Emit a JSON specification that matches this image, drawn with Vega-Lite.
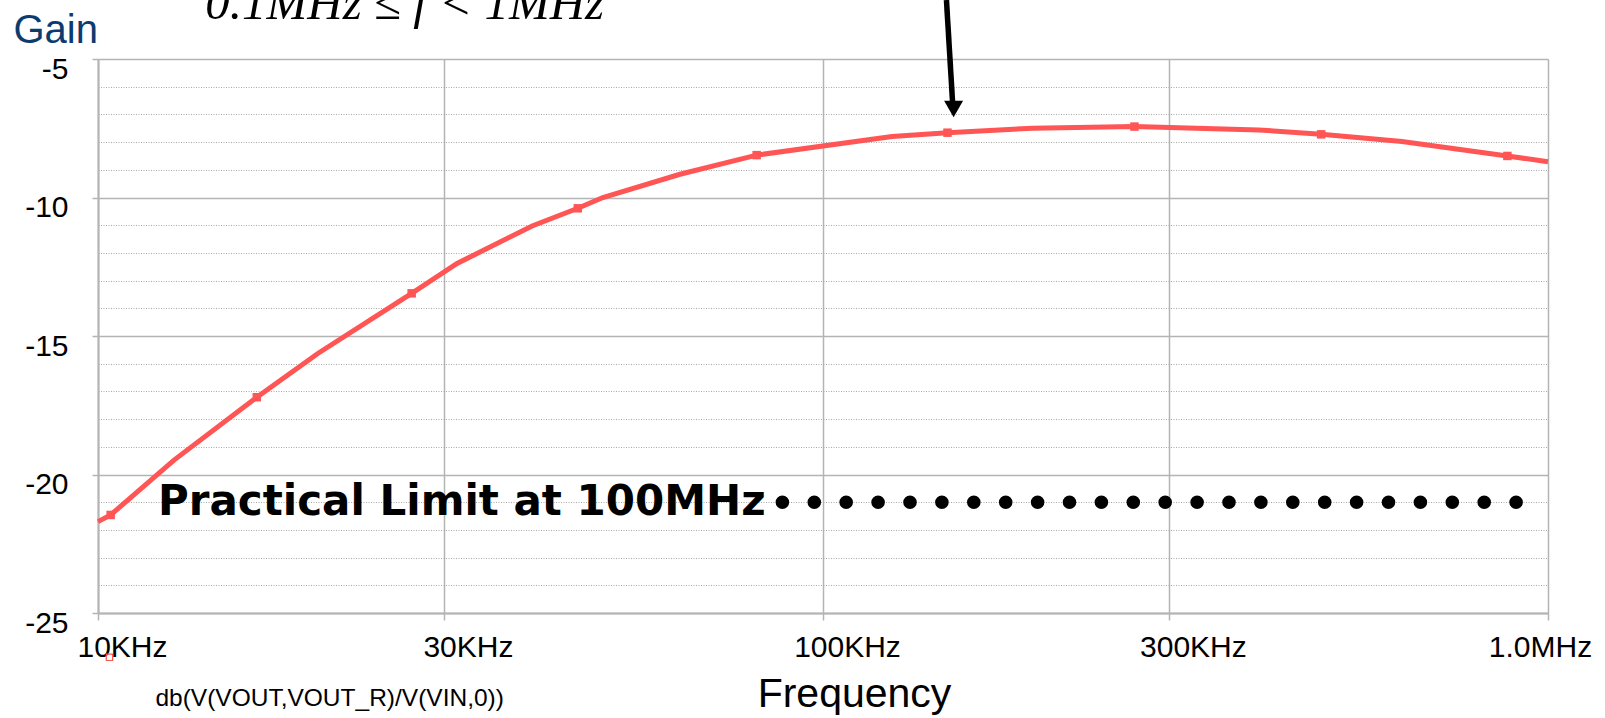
{
  "$schema": "https://vega.github.io/schema/vega-lite/v6.json",
  "width": 1450,
  "height": 554,
  "autosize": {"type": "none"},
  "padding": {"left": 98, "top": 59, "right": 57, "bottom": 105},
  "background": "white",
  "config": {"view": {"stroke": null}, "font": "Liberation Sans"},
  "datasets": {
    "curve": [
      {"f": 10000, "gain": -21.7},
      {"f": 10410, "gain": -21.46},
      {"f": 12730, "gain": -19.48},
      {"f": 16560, "gain": -17.21},
      {"f": 20100, "gain": -15.63},
      {"f": 27080, "gain": -13.46},
      {"f": 31280, "gain": -12.38},
      {"f": 39700, "gain": -11.03},
      {"f": 45900, "gain": -10.39},
      {"f": 49700, "gain": -10.0},
      {"f": 63500, "gain": -9.16},
      {"f": 81000, "gain": -8.47},
      {"f": 124500, "gain": -7.8},
      {"f": 148500, "gain": -7.66},
      {"f": 194500, "gain": -7.5},
      {"f": 268900, "gain": -7.44},
      {"f": 399000, "gain": -7.56},
      {"f": 486500, "gain": -7.72},
      {"f": 629000, "gain": -7.98},
      {"f": 879000, "gain": -8.5},
      {"f": 1000000, "gain": -8.71}
    ],
    "markers": [
      {"f": 10410, "gain": -21.46},
      {"f": 16560, "gain": -17.21},
      {"f": 27080, "gain": -13.46},
      {"f": 45900, "gain": -10.39},
      {"f": 81000, "gain": -8.47},
      {"f": 148500, "gain": -7.66},
      {"f": 268900, "gain": -7.44},
      {"f": 486500, "gain": -7.72},
      {"f": 879000, "gain": -8.5}
    ],
    "dots": [
      {"f": 87900, "gain": -21}, {"f": 97270, "gain": -21}, {"f": 107640, "gain": -21},
      {"f": 119120, "gain": -21}, {"f": 131830, "gain": -21}, {"f": 145880, "gain": -21},
      {"f": 161440, "gain": -21}, {"f": 178650, "gain": -21}, {"f": 197700, "gain": -21},
      {"f": 218780, "gain": -21}, {"f": 242100, "gain": -21}, {"f": 267920, "gain": -21},
      {"f": 296480, "gain": -21}, {"f": 328100, "gain": -21}, {"f": 363080, "gain": -21},
      {"f": 401790, "gain": -21}, {"f": 444630, "gain": -21}, {"f": 492040, "gain": -21},
      {"f": 544500, "gain": -21}, {"f": 602560, "gain": -21}, {"f": 666810, "gain": -21},
      {"f": 737900, "gain": -21}, {"f": 816600, "gain": -21}, {"f": 903650, "gain": -21}
    ]
  },
  "encoding": {
    "x": {
      "field": "f",
      "type": "quantitative",
      "scale": {"type": "log", "domain": [10000, 1000000], "nice": false},
      "axis": {
        "values": [10000, 30000, 100000, 300000, 1000000],
        "labelExpr": "datum.value >= 1000000 ? '1.0MHz' : format(datum.value / 1000, 'd') + 'KHz'",
        "title": "Frequency",
        "titleFont": "Liberation Sans",
        "titleFontSize": 41,
        "titleFontWeight": "normal",
        "titleColor": "black",
        "titleX": 756,
        "titleY": 93,
        "titleAlign": "center",
        "titleBaseline": "alphabetic",
        "labelFont": "Liberation Sans",
        "labelFontSize": 30,
        "labelColor": "black",
        "labelOffset": {"condition": {"test": "datum.value >= 1000000", "value": -8}, "value": 24},
        "labelPadding": 12,
        "labelFlush": false,
        "labelOverlap": false,
        "tickSize": 7,
        "tickColor": "#b4b4b4",
        "tickWidth": 1.5,
        "domainColor": "#b4b4b4",
        "domainWidth": 2,
        "grid": true,
        "gridColor": "#b4b4b4",
        "gridWidth": 1.5
      }
    },
    "y": {
      "field": "gain",
      "type": "quantitative",
      "scale": {"domain": [-25, -5], "nice": false, "zero": false},
      "axis": {
        "values": [-25, -24, -23, -22, -21, -20, -19, -18, -17, -16, -15, -14, -13, -12, -11, -10, -9, -8, -7, -6, -5],
        "labelExpr": "datum.value % 5 === 0 ? '' + datum.value : ''",
        "title": "Gain",
        "titleAngle": 0,
        "titleX": -85,
        "titleY": -17,
        "titleAlign": "left",
        "titleBaseline": "alphabetic",
        "titleFont": "Liberation Sans",
        "titleFontSize": 40,
        "titleFontWeight": "normal",
        "titleColor": "#0b3b6f",
        "labelFont": "Liberation Sans",
        "labelFontSize": 30,
        "labelColor": "black",
        "labelBaseline": "middle",
        "labelOffset": 10,
        "labelPadding": 24,
        "labelOverlap": false,
        "tickSize": 6,
        "tickColor": "#b4b4b4",
        "tickWidth": 1.5,
        "tickOpacity": {"condition": {"test": "datum.value % 5 === 0", "value": 1}, "value": 0},
        "domainColor": "#b4b4b4",
        "domainWidth": 2,
        "grid": true,
        "gridColor": {"condition": {"test": "datum.value % 5 === 0", "value": "#b4b4b4"}, "value": "#a8a8a8"},
        "gridWidth": {"condition": {"test": "datum.value % 5 === 0", "value": 1.5}, "value": 1},
        "gridDash": {"condition": {"test": "datum.value % 5 === 0", "value": []}, "value": [1, 1.5]}
      }
    }
  },
  "layer": [
    {
      "data": {"name": "curve"},
      "mark": {"type": "line", "color": "#ff5555", "strokeWidth": 5}
    },
    {
      "data": {"name": "markers"},
      "mark": {"type": "square", "color": "#ff5555", "size": 72, "opacity": 1}
    },
    {
      "data": {"values": [{"f": 10370, "gain": -26.6}]},
      "mark": {"type": "point", "shape": "square", "filled": false, "color": "#ff5555", "size": 40, "strokeWidth": 1.2, "opacity": 1}
    },
    {
      "data": {"values": [{"f": 12000, "gain": -28.36, "label": "db(V(VOUT,VOUT_R)/V(VIN,0))"}]},
      "mark": {"type": "text", "font": "Liberation Sans", "fontSize": 24.5, "align": "left", "baseline": "alphabetic", "color": "black"},
      "encoding": {"text": {"field": "label"}}
    },
    {
      "data": {"name": "dots"},
      "mark": {"type": "circle", "color": "black", "size": 185, "opacity": 1}
    },
    {
      "data": {"values": [{"f": 12100, "gain": -21.46, "label": "Practical Limit at 100MHz"}]},
      "mark": {"type": "text", "font": "DejaVu Sans", "fontWeight": "bold", "fontSize": 42, "align": "left", "baseline": "alphabetic", "color": "black"},
      "encoding": {"text": {"field": "label"}}
    },
    {
      "data": {"values": [{"f": 14060, "gain": -3.574, "label": "0.1MHz ≤ f < 1MHz"}]},
      "mark": {"type": "text", "font": "Liberation Serif", "fontStyle": "italic", "fontSize": 49, "align": "left", "baseline": "alphabetic", "color": "black"},
      "encoding": {"text": {"field": "label"}}
    },
    {
      "data": {"values": [{"f": 148000, "gain": -2.87, "f2": 151000, "gain2": -6.66}]},
      "mark": {"type": "rule", "color": "black", "strokeWidth": 5.5},
      "encoding": {"x2": {"field": "f2"}, "y2": {"field": "gain2"}}
    },
    {
      "data": {"values": [{"f": 151400, "gain": -6.805}]},
      "mark": {"type": "point", "shape": "triangle-down", "filled": true, "color": "black", "size": 361, "opacity": 1}
    }
  ]
}
